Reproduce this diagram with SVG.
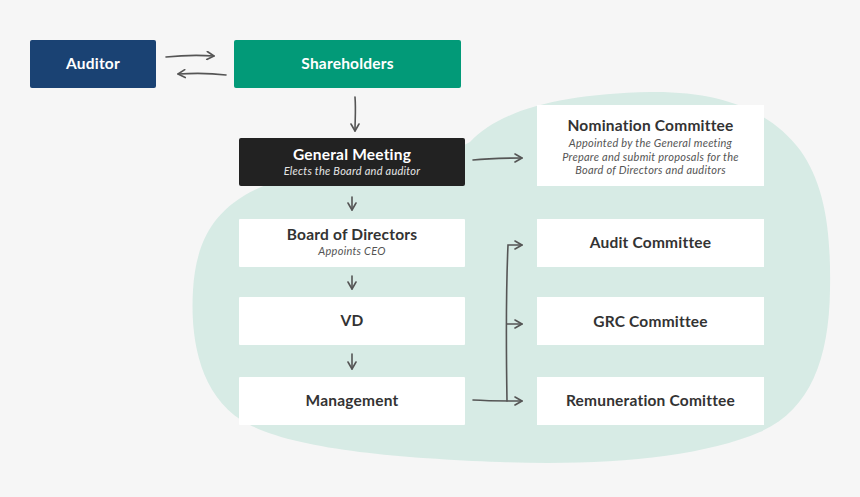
<svg xmlns="http://www.w3.org/2000/svg" width="860" height="497" viewBox="0 0 860 497">
  <defs>
    <marker id="ah" viewBox="0 0 10 10" refX="9" refY="5" markerWidth="10" markerHeight="10" markerUnits="userSpaceOnUse" orient="auto">
      <path d="M2,1 L9,5 L2,9" fill="none" stroke="#555" stroke-width="1.6" stroke-linecap="round" stroke-linejoin="round"/>
    </marker>
    <style>
      .box{fill:#ffffff}
      .t{font-family:Lato,"Noto Sans","Liberation Sans",sans-serif;font-weight:bold;font-size:15.5px;fill:#333333;text-anchor:middle;letter-spacing:0.2px}
      .tw{fill:#ffffff}
      .s{font-family:Lato,"Noto Sans","Liberation Sans",sans-serif;font-style:italic;font-size:11px;fill:#555555;text-anchor:middle;letter-spacing:0.25px}
      .sw{fill:#e6e6e6}
      .c{fill:none;stroke:#555555;stroke-width:1.6;stroke-linecap:round}
    </style>
  </defs>
  <rect width="860" height="497" fill="#f6f6f6"/>
  <path d="M 470 142 C 500 110, 560 94, 650 92 C 720 91, 770 110, 800 150 C 825 185, 831 230, 830 290 C 829 360, 810 410, 760 432 C 700 458, 600 466, 500 462 C 400 458, 300 450, 250 425 C 200 400, 190 340, 193 290 C 196 240, 215 200, 280 180 C 380 155, 440 160, 470 142 Z" fill="#d7ebe5"/>

  <g id="connectors">
    <path class="c" d="M166 57 C 185 55, 200 55, 214 56" marker-end="url(#ah)"/>
    <path class="c" d="M226 75 C 210 73, 195 73, 178 74" marker-end="url(#ah)"/>
    <path class="c" d="M355 97 C 356 110, 355 120, 355 131" marker-end="url(#ah)"/>
    <path class="c" d="M473 160 C 490 158, 505 158, 522 158" marker-end="url(#ah)"/>
    <path class="c" d="M352 197 L352 210" marker-end="url(#ah)"/>
    <path class="c" d="M352 276 L352 289" marker-end="url(#ah)"/>
    <path class="c" d="M352 354 L352 369" marker-end="url(#ah)"/>
    <path class="c" d="M473 400 C 490 401, 505 401, 522 401" marker-end="url(#ah)"/>
    <path class="c" d="M507 401 C 506 340, 506 290, 508 245 L522 245" marker-end="url(#ah)"/>
    <path class="c" d="M507 324 L522 324" marker-end="url(#ah)"/>
  </g>

  <g id="auditor">
    <rect x="30" y="40" width="126" height="48" rx="2" fill="#1a4273"/>
    <text class="t tw" x="93" y="69">Auditor</text>
  </g>
  <g id="shareholders">
    <rect x="234" y="40" width="227" height="48" rx="2" fill="#029a78"/>
    <text class="t tw" x="347.5" y="69">Shareholders</text>
  </g>
  <g id="general-meeting">
    <rect x="239" y="138" width="226" height="48" rx="2" fill="#222222"/>
    <text class="t tw" x="352" y="160">General Meeting</text>
    <text class="s sw" x="352" y="174.5">Elects the Board and auditor</text>
  </g>
  <g id="nomination-committee">
    <rect class="box" x="537" y="105" width="227" height="81"/>
    <text class="t" x="650.5" y="131">Nomination Committee</text>
    <text class="s" x="650.5" y="147">Appointed by the General meeting</text>
    <text class="s" x="650.5" y="160.5">Prepare and submit proposals for the</text>
    <text class="s" x="650.5" y="174">Board of Directors and auditors</text>
  </g>
  <g id="board-of-directors">
    <rect class="box" x="239" y="219" width="226" height="48" rx="1"/>
    <text class="t" x="352" y="240">Board of Directors</text>
    <text class="s" x="352" y="254.5">Appoints CEO</text>
  </g>
  <g id="vd">
    <rect class="box" x="239" y="297" width="226" height="48" rx="1"/>
    <text class="t" x="352" y="326">VD</text>
  </g>
  <g id="management">
    <rect class="box" x="239" y="377" width="226" height="48" rx="1"/>
    <text class="t" x="352" y="406">Management</text>
  </g>
  <g id="audit-committee">
    <rect class="box" x="537" y="219" width="227" height="48"/>
    <text class="t" x="650.5" y="248">Audit Committee</text>
  </g>
  <g id="grc-committee">
    <rect class="box" x="537" y="297" width="227" height="48"/>
    <text class="t" x="650.5" y="327">GRC Committee</text>
  </g>
  <g id="remuneration-committee">
    <rect class="box" x="537" y="377" width="227" height="48"/>
    <text class="t" x="650.5" y="406">Remuneration Comittee</text>
  </g>
</svg>
